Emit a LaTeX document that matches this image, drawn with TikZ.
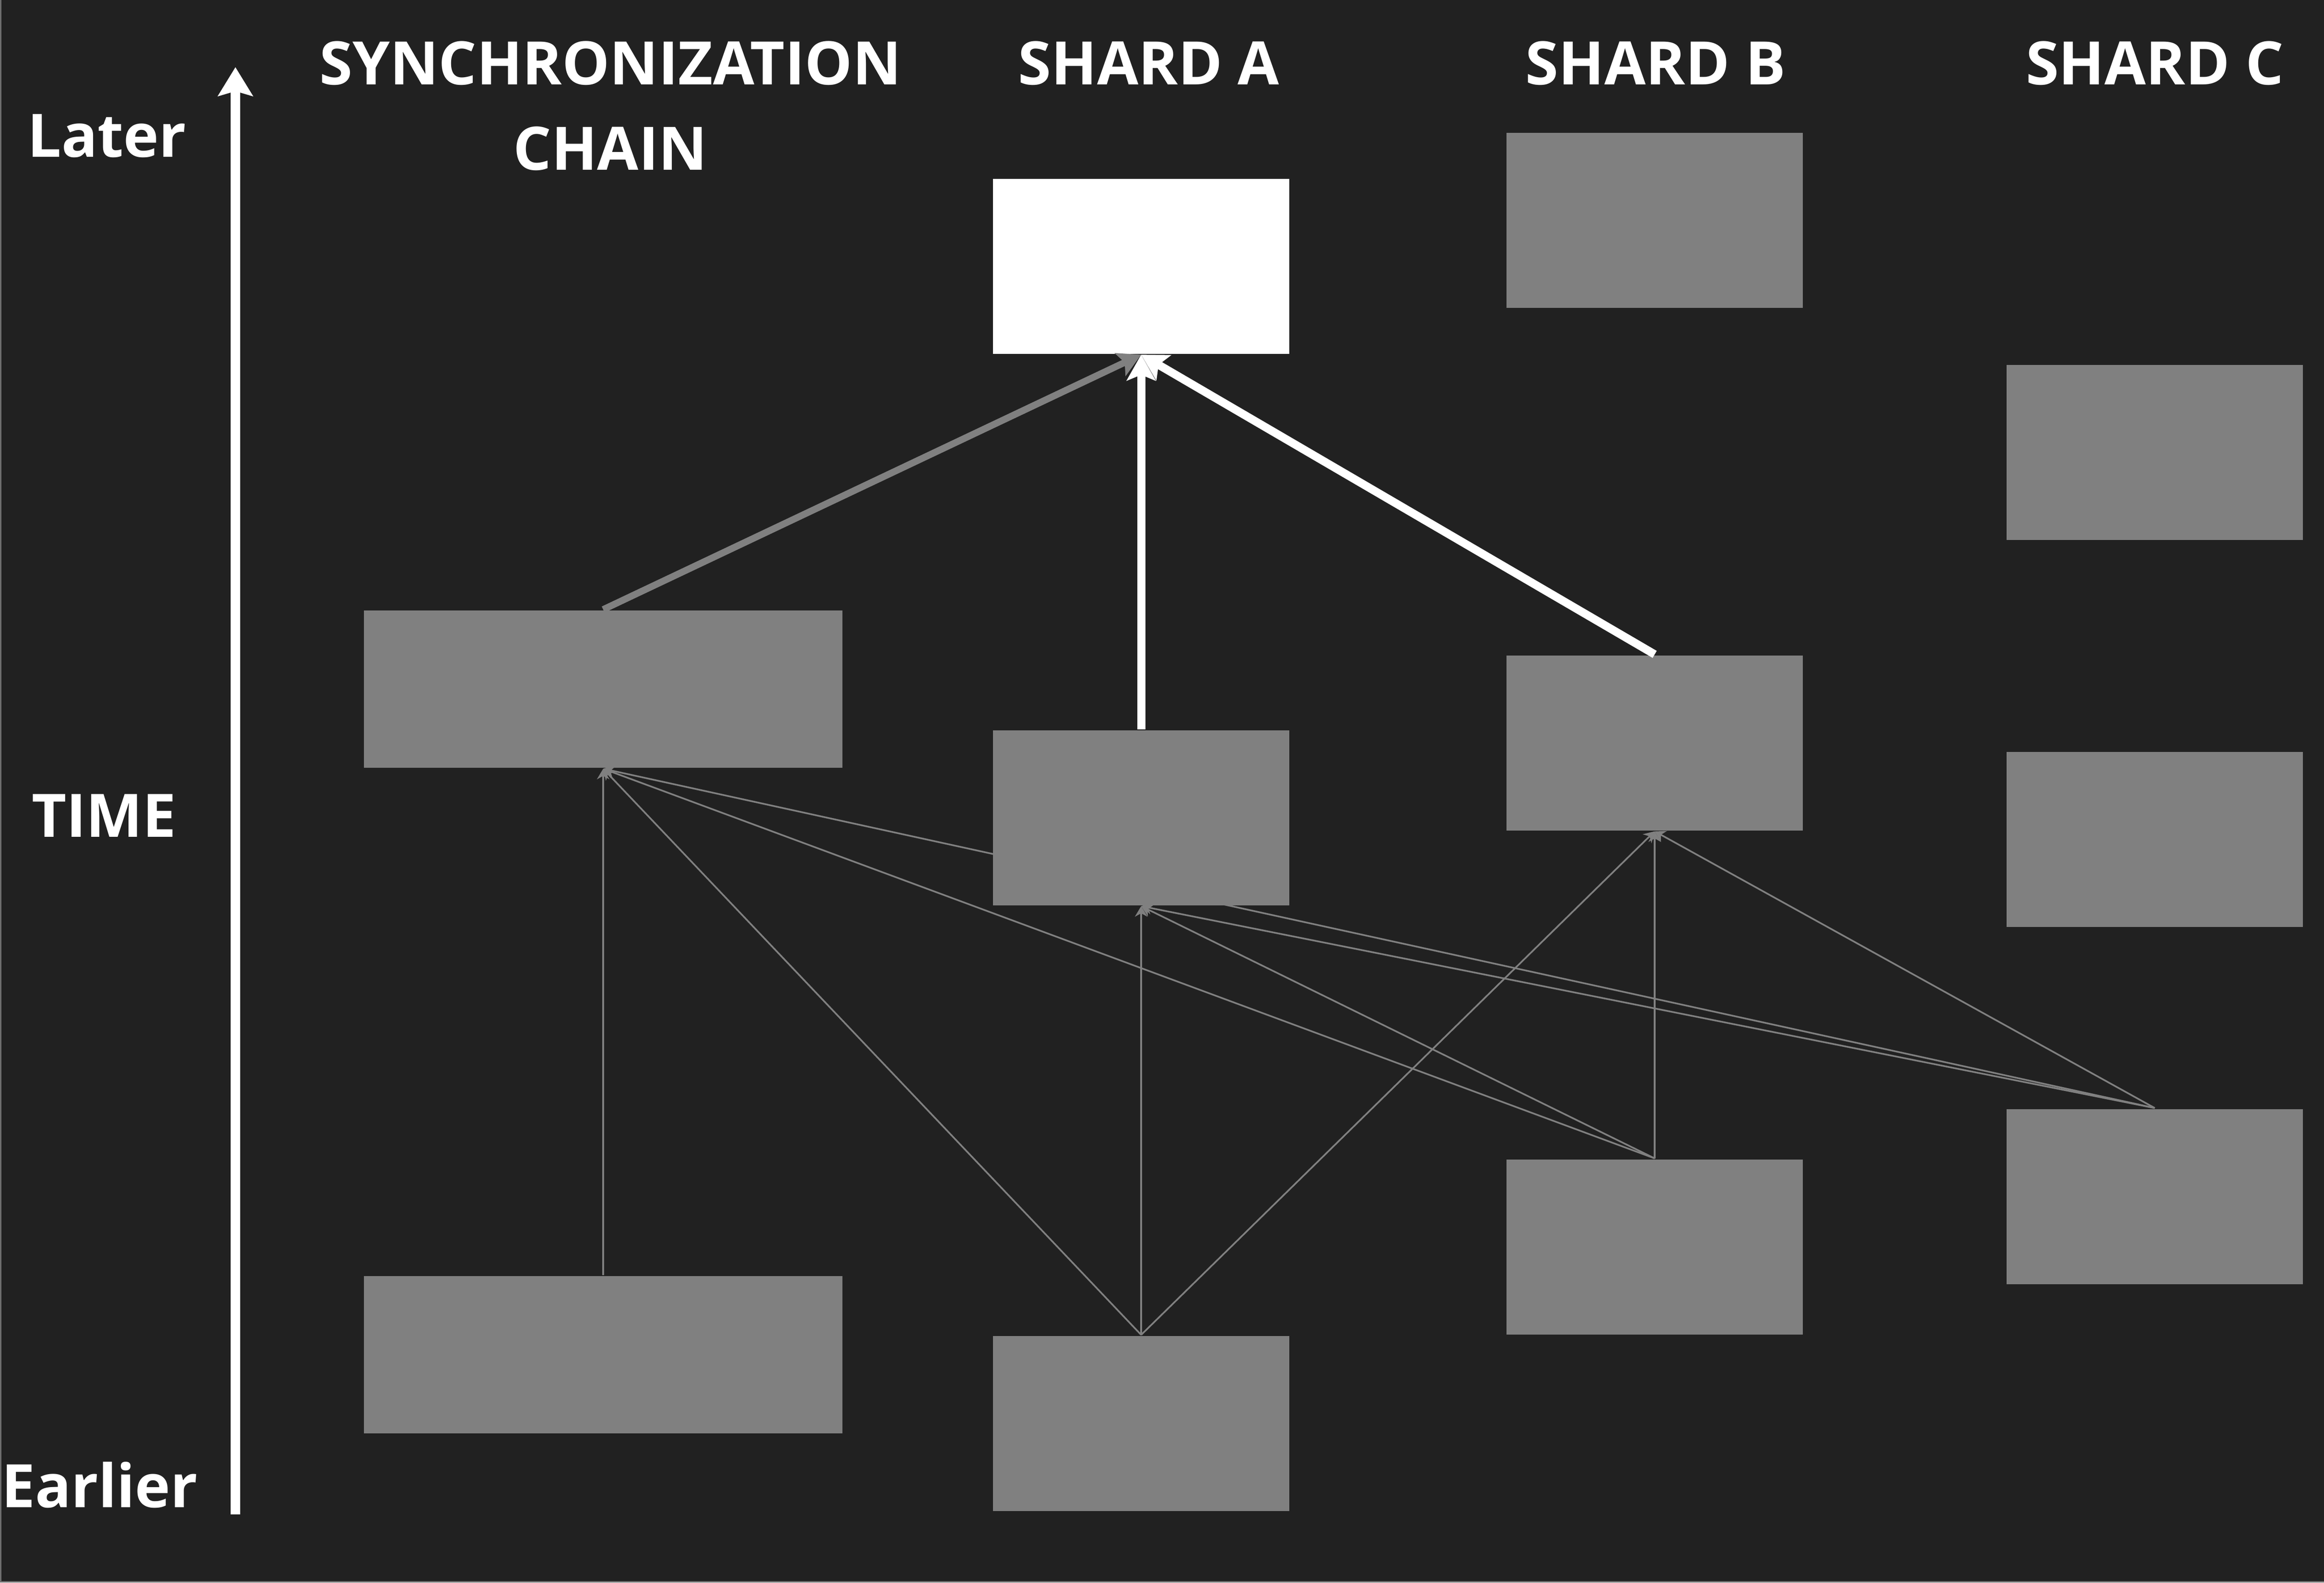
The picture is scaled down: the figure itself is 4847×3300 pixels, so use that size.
\documentclass[tikz,border=0pt]{standalone}
\usepackage{fontspec}
\setmainfont{Open Sans}
\usetikzlibrary{arrows.meta}
\definecolor{bgc}{HTML}{212121}
\definecolor{boxg}{HTML}{808080}
\definecolor{edgec}{HTML}{6E6E6E}
\pgfdeclarelayer{back}
\pgfdeclarelayer{edges}
\pgfsetlayers{back,edges,main}
\tikzset{
  blockbox/.style={fill=boxg, draw=none, inner sep=0pt, minimum width=61.8pt, minimum height=36.5pt},
  syncbox/.style={blockbox, minimum width=99.8pt, minimum height=32.8pt},
  newbox/.style={blockbox, fill=white},
  lbl/.style={text=white, font=\fontsize{12.5}{17.8}\selectfont\bfseries, inner sep=0pt},
  thinarrow/.style={draw=boxg, line width=0.35pt, -{Stealth[length=2.2pt,width=2.6pt]}},
  thickgray/.style={draw=boxg, line width=1.4pt, -{Stealth[length=4.8pt,width=5.2pt,inset=1pt]}},
  thickwhite/.style={draw=white, line width=1.7pt, -{Stealth[length=5.4pt,width=6pt,inset=1.2pt]}},
  timearrow/.style={draw=white, line width=2pt, -{Stealth[length=6pt,width=7.2pt,inset=1pt]}},
}
\begin{document}
\begin{tikzpicture}[x=0.1pt, y=-0.1pt]
\useasboundingbox (0,0) rectangle (4847,3300);
\begin{pgfonlayer}{back}
  \fill[bgc] (0,0) rectangle (4847,3300);
  \draw[edgec, line width=0.3pt] (1.5,0) -- (1.5,3298.5) -- (4847,3298.5);
\end{pgfonlayer}

% labels
\node[lbl, anchor=center, align=center] (hsync) at (1273,221) {SYNCHRONIZATION\\CHAIN};
\node[lbl, anchor=base] (ha) at (2396,176) {SHARD A};
\node[lbl, anchor=base] (hb) at (3453,176) {SHARD B};
\node[lbl, anchor=base] (hc) at (4494,176) {SHARD C};
\node[lbl, anchor=base] (later) at (223,327) {Later};
\node[lbl, anchor=base] (time) at (217,1745) {TIME};
\node[lbl, anchor=base] (earlier) at (208,3143) {Earlier};

% time axis
\coordinate (tbot) at (491,3158);
\coordinate (ttop) at (491,140);
\draw[timearrow] (tbot) -- (ttop);

% blocks
\node[syncbox] (st) at (1258,1437) {};
\node[syncbox] (sb) at (1258,2825) {};
\node[newbox]   (at) at (2380,555) {};
\node[blockbox] (am) at (2380,1705) {};
\node[blockbox] (ab) at (2380,2968) {};
\node[blockbox] (bt) at (3451,459) {};
\node[blockbox] (bm) at (3451,1549) {};
\node[blockbox] (bb) at (3451,2600) {};
\node[blockbox] (ct) at (4494,943) {};
\node[blockbox] (cm) at (4494,1750) {};
\node[blockbox] (cb) at (4494,2495) {};

% thin references (behind blocks)
\begin{pgfonlayer}{edges}
  \draw[thinarrow] (sb.north) -- (st.south);
  \draw[thinarrow] (ab.north) -- (st.south);
  \draw[thinarrow] (bb.north) -- (st.south);
  \draw[thinarrow] (cb.north) -- (st.south);
  \draw[thinarrow] (ab.north) -- (am.south);
  \draw[thinarrow] (bb.north) -- (am.south);
  \draw[thinarrow] (cb.north) -- (am.south);
  \draw[thinarrow] (ab.north) -- (bm.south);
  \draw[thinarrow] (bb.north) -- (bm.south);
  \draw[thinarrow] (cb.north) -- (bm.south);
\end{pgfonlayer}

% thick links into new block
\draw[thickgray] (st.north) -- (at.south);
\draw[thickwhite] (am.north) -- (at.south);
\draw[thickwhite] (bm.north) -- (at.south);
\end{tikzpicture}
\end{document}
